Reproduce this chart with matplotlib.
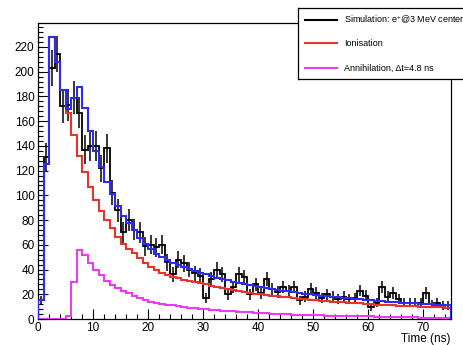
import numpy as np
import matplotlib
matplotlib.use("Agg")
import matplotlib.pyplot as plt
from matplotlib.ticker import MultipleLocator

plt.rcParams['font.family'] = ['Liberation Sans', 'DejaVu Sans']
plt.rcParams['mathtext.fontset'] = 'custom'
plt.rcParams['mathtext.rm'] = 'Liberation Sans'
plt.rcParams['mathtext.it'] = 'Liberation Sans:italic'

# bin edges: 1 ns bins from 0 to 75 ns
edges = np.arange(0, 76, 1.0)

# black: simulated data (counts per bin)
data = [15, 131, 203, 214, 172, 173, 179, 167, 137, 140,
        140, 122, 138, 102, 88, 70, 80, 72, 70, 59,
        60, 58, 60, 46, 36, 48, 45, 40, 37, 35,
        17, 32, 40, 36, 20, 26, 36, 34, 20, 28,
        21, 32, 24, 22, 26, 23, 26, 15, 18, 24,
        21, 17, 20, 18, 16, 18, 16, 17, 23, 19,
        10, 13, 26, 18, 21, 16, 13, 13, 13, 13,
        21, 12, 13, 11, 11]

# red: ionisation component
ionisation = [15, 125, 228, 208, 185, 167, 149, 131.5, 119, 107,
              96, 87, 80, 73.5, 66.7, 61, 56.5, 53, 49, 45,
              42.4, 39.7, 37.6, 35.8, 34.3, 33, 31.8, 30.7, 29.7, 28.8,
              28, 27, 26, 25.1, 24.3, 23.5, 22.7, 22, 21.3, 20.6,
              20, 19.5, 19, 18.5, 18, 17.5, 17, 16.5, 16.1, 15.7,
              15.3, 14.9, 14.5, 14.1, 13.8, 13.5, 13.2, 12.9, 12.6, 12.3,
              12, 11.7, 11.5, 11.3, 11.1, 10.9, 10.7, 10.5, 10.3, 10.1,
              9.9, 9.7, 9.5, 9.4, 9.2]

# magenta: annihilation component
annihilation = [0, 0, 0, 0, 0, 2.5, 30, 56, 52, 45,
                39.7, 35.6, 31, 27.5, 24.8, 22.7, 20.8, 18.6, 16.7, 15.4,
                14, 12.8, 12, 11.5, 11, 10.5, 10, 9.3, 8.7, 8.2,
                7.8, 7.4, 7, 6.7, 6.4, 6.1, 5.8, 5.5, 5.3, 5,
                4.8, 4.6, 4.4, 4.1, 3.9, 3.7, 3.5, 3.3, 3.2, 3.1,
                3, 2.9, 2.8, 2.7, 2.6, 2.5, 2.4, 2.3, 2.2, 2.2,
                2.1, 2, 1.9, 1.8, 1.7, 1.6, 1.5, 1.4, 1.3, 1.2,
                1.1, 1.0, 1.0, 0.9, 0.9]

# blue: total model
total = [15, 125, 228, 208, 185, 169.5, 179, 187.5, 171, 152,
         135.7, 122.6, 111, 101, 91.5, 83.7, 77.3, 71.6, 65.7, 60.4,
         56.4, 52.5, 50, 47.5, 45.5, 43.8, 42.2, 40.5, 39, 37.6,
         36, 34.8, 33.5, 32.3, 31.2, 30.1, 29.1, 28.2, 27.3, 26.4,
         25.5, 25, 24.3, 23.6, 23, 22.3, 21.6, 21, 20.4, 19.9,
         19.4, 18.9, 18.4, 18, 17.5, 17, 16.6, 16.2, 15.8, 15.4,
         15.1, 14.7, 14.4, 14.1, 13.8, 13.5, 13.2, 12.9, 12.6, 12.4,
         12.1, 11.9, 11.6, 11.4, 11.2]

legend_labels = ['Simulation: e$^{+}$@3 MeV center', 'Ionisation',
                 'Annihilation, \u0394t=4.8 ns']

W, H = 464, 345
fig = plt.figure(figsize=(W / 100, H / 100), dpi=100)
ax = fig.add_axes([38 / W, 26 / H, 413 / W, 295.5 / H])

data = np.array(data, dtype=float)
centers = 0.5 * (edges[:-1] + edges[1:])

ax.stairs(data, edges, color='black', lw=1.3, baseline=0, zorder=2)
ax.errorbar(centers, data, yerr=np.sqrt(data), fmt='none', ecolor='black',
            elinewidth=1.1, capsize=0, zorder=2)
ax.stairs(ionisation, edges, color='#e8322a', lw=1.5, baseline=0, zorder=3)
ax.stairs(annihilation, edges, color='#e83cf0', lw=1.5, baseline=0, zorder=3)
ax.stairs(total, edges, color='#2b2bf5', lw=1.5, baseline=0, zorder=4)

ax.set_xlim(0, 75)
ax.set_ylim(0, 239)
ax.xaxis.set_major_locator(MultipleLocator(10))
ax.xaxis.set_minor_locator(MultipleLocator(2))
ax.yaxis.set_major_locator(MultipleLocator(20))
ax.yaxis.set_minor_locator(MultipleLocator(4))
ax.tick_params(which='both', direction='in', top=False, right=False,
               labelsize=8.5, width=0.8, colors='black')
ax.tick_params(which='major', length=7, pad=2.5)
ax.tick_params(which='minor', length=3.5)
for s in ax.spines.values():
    s.set_linewidth(0.9)

fig.text(451 / W, 1 - 339 / H, 'Time (ns)', ha='right', va='center', fontsize=8.5)

# legend box, drawn in pixel units; it runs past the right edge of the figure
lg = fig.add_axes([298 / W, 1 - 79 / H, 190 / W, 71 / H])
lg.set_xlim(0, 190)
lg.set_ylim(71, 0)
lg.set_xticks([])
lg.set_yticks([])
for s in lg.spines.values():
    s.set_linewidth(0.9)
leg_colors = ['black', '#e8322a', '#e83cf0']
leg_y = [12, 35, 60]
for lab, c, yy in zip(legend_labels, leg_colors, leg_y):
    lg.plot([7, 39], [yy, yy], color=c, lw=1.5)
    lg.text(46, yy, lab, fontsize=6.45, va='center', ha='left')

fig.savefig('out.png', dpi=100)
